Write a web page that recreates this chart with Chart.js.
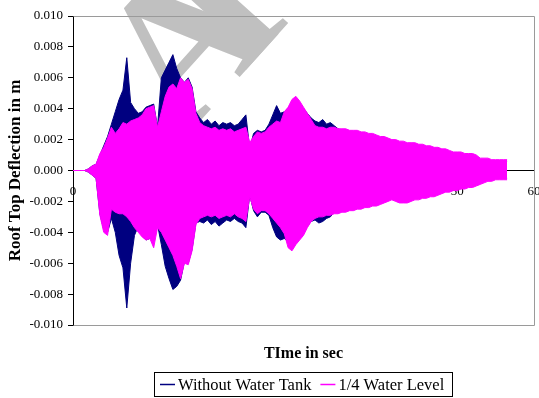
<!DOCTYPE html>
<html>
<head>
<meta charset="utf-8">
<title>Roof Top Deflection</title>
<script src="https://cdn.jsdelivr.net/npm/chart.js@4/dist/chart.umd.min.js"></script>
<style>
  html, body { margin: 0; padding: 0; background: #fff; }
  #wrap { width: 539px; height: 398px; }
</style>
</head>
<body>
<div id="wrap"><canvas id="chart" width="539" height="398"></canvas></div>
<script>
// Time axis (s) for the response envelopes
const times = [
  0, 0.5, 1, 1.5, 2, 2.5, 3, 3.5, 4, 4.5,
  5, 5.5, 6, 6.5, 7, 7.5, 8, 8.5, 9, 9.5,
  10, 10.5, 11, 11.5, 12, 12.5, 13, 13.5, 14, 14.5,
  15, 15.5, 16, 16.5, 17, 17.5, 18, 18.5, 19, 19.5,
  20, 20.5, 21, 21.5, 22, 22.5, 23, 23.5, 24, 24.5,
  25, 25.5, 26, 26.5, 27, 27.5, 28, 28.5, 29, 29.5,
  30, 30.5, 31, 31.5, 32, 32.5, 33, 33.5, 34, 34.5,
  35, 35.5, 36, 36.5, 37, 37.5, 38, 38.5, 39, 39.5,
  40, 40.5, 41, 41.5, 42, 42.5, 43, 43.5, 44, 44.5,
  45, 45.5, 46, 46.5, 47, 47.5, 48, 48.5, 49, 49.5,
  50, 50.5, 51, 51.5, 52, 52.5, 53, 53.5, 54, 54.5,
  55, 55.5, 56, 56.5
];

// Without water tank: peak positive / negative roof deflection (m)
const withoutTankUpper = [
  0, 0, 0, 0, 0.0001, 0.0003, 0.0004, 0.0010, 0.0016, 0.0022,
  0.0030, 0.0038, 0.0046, 0.0052, 0.0073, 0.0044, 0.0040, 0.0037, 0.0038, 0.0041,
  0.0042, 0.0043, 0.0028, 0.0060, 0.0065, 0.0070, 0.0075, 0.0066, 0.0060, 0.0057,
  0.0060, 0.0054, 0.0038, 0.0034, 0.0031, 0.0033, 0.0030, 0.0032, 0.0029, 0.0031,
  0.0030, 0.0031, 0.0029, 0.0030, 0.0033, 0.0036, 0.0014, 0.0024, 0.0026, 0.0025,
  0.0026, 0.0030, 0.0036, 0.0042, 0.0037, 0.0038, 0.0040, 0.0044, 0.0046, 0.0043,
  0.0040, 0.0037, 0.0034, 0.0032, 0.0031, 0.0033, 0.0030, 0.0031, 0.0029, 0.0027,
  0.0026, 0.0026, 0.0025, 0.0025, 0.0025, 0.0024, 0.0024, 0.0023, 0.0023, 0.0022,
  0.0021, 0.0021, 0.0020, 0.0019, 0.0019, 0.0018, 0.0018, 0.0017, 0.0017, 0.0017,
  0.0016, 0.0016, 0.0015, 0.0015, 0.0014, 0.0014, 0.0013, 0.0013, 0.0012, 0.0011,
  0.0011, 0.0011, 0.0010, 0.0010, 0.0010, 0.0009, 0.0007, 0.0007, 0.0007, 0.0006,
  0.0006, 0.0006, 0.0006, 0.0006
];
const withoutTankLower = [
  0, 0, 0, 0, -0.0001, -0.0003, -0.0005, -0.0028, -0.0038, -0.0040,
  -0.0031, -0.0040, -0.0055, -0.0063, -0.0089, -0.0060, -0.0042, -0.0036, -0.0042, -0.0045,
  -0.0044, -0.0044, -0.0035, -0.0048, -0.0062, -0.0070, -0.0077, -0.0075, -0.0071, -0.0059,
  -0.0060, -0.0051, -0.0034, -0.0033, -0.0034, -0.0032, -0.0035, -0.0033, -0.0036, -0.0034,
  -0.0032, -0.0033, -0.0031, -0.0033, -0.0034, -0.0037, -0.0016, -0.0026, -0.0030, -0.0027,
  -0.0027, -0.0029, -0.0037, -0.0043, -0.0045, -0.0044, -0.0046, -0.0048, -0.0045, -0.0043,
  -0.0040, -0.0036, -0.0033, -0.0032, -0.0034, -0.0033, -0.0031, -0.0030, -0.0027, -0.0027,
  -0.0026, -0.0026, -0.0025, -0.0025, -0.0024, -0.0024, -0.0023, -0.0023, -0.0022, -0.0022,
  -0.0021, -0.0020, -0.0019, -0.0018, -0.0019, -0.0020, -0.0020, -0.0020, -0.0019, -0.0018,
  -0.0018, -0.0017, -0.0017, -0.0016, -0.0016, -0.0015, -0.0014, -0.0013, -0.0013, -0.0012,
  -0.0012, -0.0011, -0.0011, -0.0010, -0.0010, -0.0009, -0.0008, -0.0007, -0.0006, -0.0006,
  -0.0005, -0.0005, -0.0005, -0.0005
];

// 1/4 water level: peak positive / negative roof deflection (m)
const quarterLevelUpper = [
  0, 0, 0, 0, 0.0001, 0.0003, 0.0004, 0.0011, 0.0015, 0.0021,
  0.0028, 0.0024, 0.0027, 0.0031, 0.0030, 0.0032, 0.0033, 0.0034, 0.0036, 0.0040,
  0.0041, 0.0042, 0.0028, 0.0038, 0.0048, 0.0054, 0.0056, 0.0053, 0.0060, 0.0057,
  0.0059, 0.0053, 0.0037, 0.0031, 0.0029, 0.0028, 0.0027, 0.0028, 0.0026, 0.0027,
  0.0026, 0.0027, 0.0025, 0.0026, 0.0027, 0.0028, 0.0018, 0.0022, 0.0025, 0.0024,
  0.0025, 0.0028, 0.0030, 0.0032, 0.0031, 0.0038, 0.0041, 0.0046, 0.0048, 0.0045,
  0.0041, 0.0037, 0.0033, 0.0029, 0.0028, 0.0028, 0.0027, 0.0028, 0.0028, 0.0027,
  0.0027, 0.0027, 0.0026, 0.0026, 0.0026, 0.0025, 0.0025, 0.0024, 0.0024, 0.0023,
  0.0022, 0.0022, 0.0021, 0.0020, 0.0020, 0.0019, 0.0019, 0.0018, 0.0018, 0.0018,
  0.0017, 0.0017, 0.0016, 0.0016, 0.0015, 0.0015, 0.0014, 0.0014, 0.0013, 0.0012,
  0.0012, 0.0012, 0.0011, 0.0011, 0.0011, 0.0010, 0.0008, 0.0008, 0.0008, 0.0007,
  0.0007, 0.0007, 0.0007, 0.0007
];
const quarterLevelLower = [
  0, 0, 0, 0, -0.0001, -0.0003, -0.0005, -0.0029, -0.0040, -0.0042,
  -0.0025, -0.0027, -0.0028, -0.0028, -0.0030, -0.0033, -0.0037, -0.0040, -0.0043, -0.0045,
  -0.0044, -0.0050, -0.0037, -0.0040, -0.0045, -0.0050, -0.0055, -0.0062, -0.0070, -0.0060,
  -0.0061, -0.0052, -0.0035, -0.0031, -0.0030, -0.0029, -0.0030, -0.0029, -0.0031, -0.0030,
  -0.0029, -0.0030, -0.0028, -0.0030, -0.0031, -0.0033, -0.0017, -0.0025, -0.0028, -0.0026,
  -0.0026, -0.0028, -0.0031, -0.0034, -0.0037, -0.0041, -0.0050, -0.0052, -0.0048, -0.0045,
  -0.0042, -0.0037, -0.0033, -0.0031, -0.0030, -0.0030, -0.0029, -0.0029, -0.0028, -0.0028,
  -0.0027, -0.0027, -0.0026, -0.0026, -0.0025, -0.0025, -0.0024, -0.0024, -0.0023, -0.0023,
  -0.0022, -0.0021, -0.0020, -0.0019, -0.0020, -0.0021, -0.0021, -0.0021, -0.0020, -0.0019,
  -0.0019, -0.0018, -0.0018, -0.0017, -0.0017, -0.0016, -0.0015, -0.0014, -0.0014, -0.0013,
  -0.0013, -0.0012, -0.0012, -0.0011, -0.0011, -0.0010, -0.0009, -0.0008, -0.0007, -0.0007,
  -0.0006, -0.0006, -0.0006, -0.0006
];

const seriesNames = ['Without Water Tank', '1/4 Water Level'];
const seriesColors = ['#000080', '#ff00ff'];
const xTickValues = [0, 10, 20, 30, 40, 50, 60];
const yTickValues = [-0.010, -0.008, -0.006, -0.004, -0.002, 0, 0.002, 0.004, 0.006, 0.008, 0.010];

const serif = '"Liberation Serif", "Times New Roman", Times, serif';
Chart.defaults.font.family = serif;
Chart.defaults.color = '#000';

const pts = arr => arr.map((v, i) => ({ x: times[i], y: v }));

// White page and the grey watermark lettering behind the plot
const backdrop = {
  id: 'backdrop',
  beforeDraw(chart) {
    const ctx = chart.ctx;
    ctx.save();
    ctx.fillStyle = '#fff';
    ctx.fillRect(0, 0, chart.width, chart.height);
    ctx.translate(183, 140);
    ctx.rotate(-48 * Math.PI / 180);
    ctx.fillStyle = '#c0c0c0';
    ctx.font = 'bold 200px ' + serif;
    ctx.textBaseline = 'alphabetic';
    ctx.fillText('A', 0, 0);
    // tight kerning: the second letter tucks against the foot of the A
    ctx.fillText('R', ctx.measureText('A').width - 55, 0);
    ctx.restore();
  }
};

// Grey frame on the top, right and bottom of the plot area
const plotFrame = {
  id: 'plotFrame',
  beforeDatasetsDraw(chart) {
    const { ctx, chartArea: a } = chart;
    ctx.save();
    ctx.strokeStyle = '#9a9a9a';
    ctx.lineWidth = 1;
    ctx.beginPath();
    ctx.moveTo(Math.round(a.left) + 0.5, Math.round(a.top) + 0.5);
    ctx.lineTo(Math.round(a.right) + 0.5, Math.round(a.top) + 0.5);
    ctx.lineTo(Math.round(a.right) + 0.5, Math.round(a.bottom) + 0.5);
    ctx.lineTo(Math.round(a.left) + 0.5, Math.round(a.bottom) + 0.5);
    ctx.stroke();
    ctx.restore();
  }
};

// Boxed legend under the axis title
const boxedLegend = {
  id: 'boxedLegend',
  afterDraw(chart) {
    const ctx = chart.ctx;
    const boxLeft = 154.5, boxTop = 372.5, boxW = 298, boxH = 24;
    const midY = boxTop + boxH / 2;
    ctx.save();
    ctx.strokeStyle = '#000';
    ctx.lineWidth = 1;
    ctx.strokeRect(boxLeft, boxTop, boxW, boxH);
    ctx.font = '16.5px ' + serif;
    ctx.textBaseline = 'middle';
    ctx.textAlign = 'left';
    let x = 160;
    seriesNames.forEach((name, i) => {
      ctx.strokeStyle = seriesColors[i];
      ctx.lineWidth = 1.5;
      ctx.beginPath();
      ctx.moveTo(x, midY);
      ctx.lineTo(x + 15, midY);
      ctx.stroke();
      ctx.fillStyle = '#000';
      ctx.fillText(name, x + 18, midY + 1);
      x += 18 + ctx.measureText(name).width + 9;
    });
    ctx.restore();
  }
};

new Chart(document.getElementById('chart'), {
  type: 'line',
  data: {
    datasets: [
      { label: seriesNames[1] + ' (min)', data: pts(quarterLevelLower), borderColor: seriesColors[1],
        backgroundColor: seriesColors[1], borderWidth: 1, pointRadius: 0, fill: false },
      { label: seriesNames[1], data: pts(quarterLevelUpper), borderColor: seriesColors[1],
        backgroundColor: seriesColors[1], borderWidth: 1, pointRadius: 0, fill: '-1' },
      { label: seriesNames[0] + ' (min)', data: pts(withoutTankLower), borderColor: seriesColors[0],
        backgroundColor: seriesColors[0], borderWidth: 1, pointRadius: 0, fill: false },
      { label: seriesNames[0], data: pts(withoutTankUpper), borderColor: seriesColors[0],
        backgroundColor: seriesColors[0], borderWidth: 1, pointRadius: 0, fill: '-1' }
    ]
  },
  options: {
    responsive: false,
    animation: false,
    devicePixelRatio: 1,
    layout: { padding: { top: 16, left: 0, right: 5, bottom: 33 } },
    plugins: {
      legend: { display: false },
      tooltip: { enabled: false }
    },
    elements: { line: { tension: 0 } },
    scales: {
      x: {
        type: 'linear',
        min: 0, max: 60,
        position: { y: 0 },
        afterBuildTicks: s => { s.ticks = xTickValues.map(v => ({ value: v })); },
        ticks: { font: { size: 13 }, color: '#000', padding: 8, maxRotation: 0, autoSkip: false },
        grid: { drawOnChartArea: false, drawTicks: true, tickLength: 5, color: '#000' },
        border: { display: true, color: '#000', width: 1 },
        afterFit: s => { s.paddingLeft = 0; s.paddingRight = 0; }
      },
      x2: {
        type: 'linear',
        min: 0, max: 60,
        position: 'bottom',
        ticks: { display: false },
        grid: { display: false, drawTicks: false },
        border: { display: false },
        title: { display: true, text: 'TIme in sec', font: { size: 16, weight: 'bold' },
                 color: '#000', padding: { top: 0, bottom: 2 } },
        afterFit: s => { s.height = 40; s.paddingLeft = 0; s.paddingRight = 0; }
      },
      y: {
        type: 'linear',
        min: -0.010, max: 0.010,
        afterBuildTicks: s => { s.ticks = yTickValues.map(v => ({ value: v })); },
        ticks: {
          font: { size: 13 }, color: '#000', padding: 5,
          callback: v => (Math.abs(v) < 1e-9 ? 0 : v).toFixed(3)
        },
        grid: { drawOnChartArea: false, drawTicks: true, tickLength: 5, color: '#000' },
        border: { display: true, color: '#000', width: 1 },
        title: { display: true, text: 'Roof Top Deflection in m', font: { size: 17, weight: 'bold' },
                 color: '#000', padding: { top: 5, bottom: 0 } },
        afterFit: s => { s.width = 73; s.paddingTop = 0; s.paddingBottom = 0; }
      }
    }
  },
  plugins: [backdrop, plotFrame, boxedLegend]
});
</script>
</body>
</html>
